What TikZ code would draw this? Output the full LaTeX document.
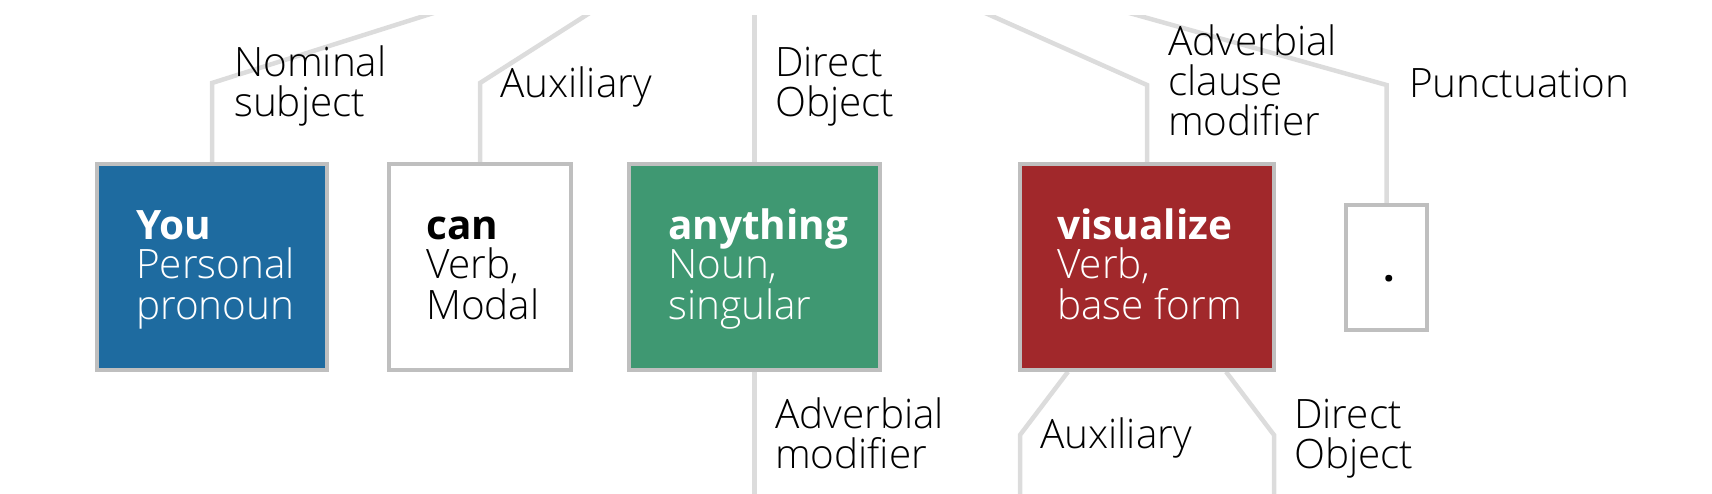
\documentclass[tikz,border=0pt]{standalone}
\usepackage{fontspec}
\setmainfont{Open Sans}
\IfFontExistsTF{Open Sans Light}{\newfontfamily\lightf{Open Sans Light}}{\newfontfamily\lightf{Open Sans}}
\definecolor{boxgray}{HTML}{BFBFBF}
\definecolor{linegray}{HTML}{DCDCDC}
\definecolor{cblue}{HTML}{1E6BA0}
\definecolor{cgreen}{HTML}{3F9872}
\definecolor{cred}{HTML}{A1282B}
\tikzset{
  wordbox/.style={draw=boxgray, line width=3.5pt, inner sep=0pt},
  conn/.style={draw=linegray, line width=4.5pt},
  lbl/.style={anchor=base west, align=left, inner sep=0pt, text=black,
    font=\lightf\fontsize{40.5}{40}\selectfont},
  wtext/.style={anchor=base west, align=left, inner sep=0pt,
    font=\lightf\fontsize{40.5}{40}\selectfont},
}
\begin{document}
\begin{tikzpicture}[x=1pt,y=-1pt]
\useasboundingbox (0,0) rectangle (1712,494);
% boxes (named nodes)
\path
 node[wordbox, fill=cblue, minimum width=230pt, minimum height=206pt] (you) at (212,267) {}
 node[wordbox, fill=white, minimum width=182pt, minimum height=206pt] (can) at (480,267) {}
 node[wordbox, fill=cgreen, minimum width=251pt, minimum height=206pt] (any) at (754.5,267) {}
 node[wordbox, fill=cred, minimum width=254pt, minimum height=206pt] (vis) at (1147,267) {}
 node[wordbox, fill=white, minimum width=81pt, minimum height=125pt] (dot) at (1386.5,267.5) {};
% connector points
\coordinate (nsA) at (474.6,0);   \coordinate (nsB) at (212,83);
\coordinate (auA) at (610,0);     \coordinate (auB) at (480,83);
\coordinate (doA) at (754.5,0);
\coordinate (acA) at (956,0);     \coordinate (acB) at (1147,85);
\coordinate (puA) at (1083,0);    \coordinate (puB) at (1386.5,85);
\coordinate (amE) at (754.5,500);
\coordinate (a2B) at (1020,435);  \coordinate (a2E) at (1020,500);
\coordinate (d2B) at (1274,435);  \coordinate (d2E) at (1274,500);
\begin{scope}
\clip (0,16) rectangle (1712,494);
\draw[conn] (nsA) -- (nsB) -- (you.north);
\draw[conn] (auA) -- (auB) -- (can.north);
\draw[conn] (doA) -- (any.north);
\draw[conn] (acA) -- (acB) -- (vis.north);
\draw[conn] (puA) -- (puB) -- (dot.north);
\draw[conn] (any.south) -- (amE);
\draw[conn] ([xshift=-79pt]vis.south) -- (a2B) -- (a2E);
\draw[conn] ([xshift=79pt]vis.south) -- (d2B) -- (d2E);
\end{scope}
% redraw boxes on top
\path
 node[wordbox, fill=cblue, minimum width=230pt, minimum height=206pt] (youF) at (you) {}
 node[wordbox, fill=white, minimum width=182pt, minimum height=206pt] (canF) at (can) {}
 node[wordbox, fill=cgreen, minimum width=251pt, minimum height=206pt] (anyF) at (any) {}
 node[wordbox, fill=cred, minimum width=254pt, minimum height=206pt] (visF) at (vis) {}
 node[wordbox, fill=white, minimum width=81pt, minimum height=125pt] (dotF) at (dot) {};
% box texts (anchor at baseline of the last line)
\node[wtext, text=white] (youT) at (136,319) {{\rmfamily\bfseries You}\\Personal\\pronoun};
\node[wtext, text=black] (canT) at (426,319) {{\rmfamily\bfseries can}\\Verb,\\Modal};
\node[wtext, text=white] (anyT) at (668,319) {{\rmfamily\bfseries anything}\\Noun,\\singular};
\node[wtext, text=white] (visT) at (1057,319) {{\rmfamily\bfseries visualize}\\Verb,\\base form};
\node[wtext, text=black] (dotT) at (1383,281) {{\rmfamily\bfseries .}};
% dependency labels
\node[lbl] (l1) at (234,117) {Nominal\\subject};
\node[lbl] (l2) at (500,98) {Auxiliary};
\node[lbl] (l3) at (775,117) {Direct\\Object};
\node[lbl] (l4) at (1168,136) {Adverbial\\clause\\modifier};
\node[lbl] (l5) at (1409,98) {Punctuation};
\node[lbl] (l6) at (775,468) {Adverbial\\modifier};
\node[lbl] (l7) at (1040,448) {Auxiliary};
\node[lbl] (l8) at (1294,468) {Direct\\Object};
\end{tikzpicture}
\end{document}
